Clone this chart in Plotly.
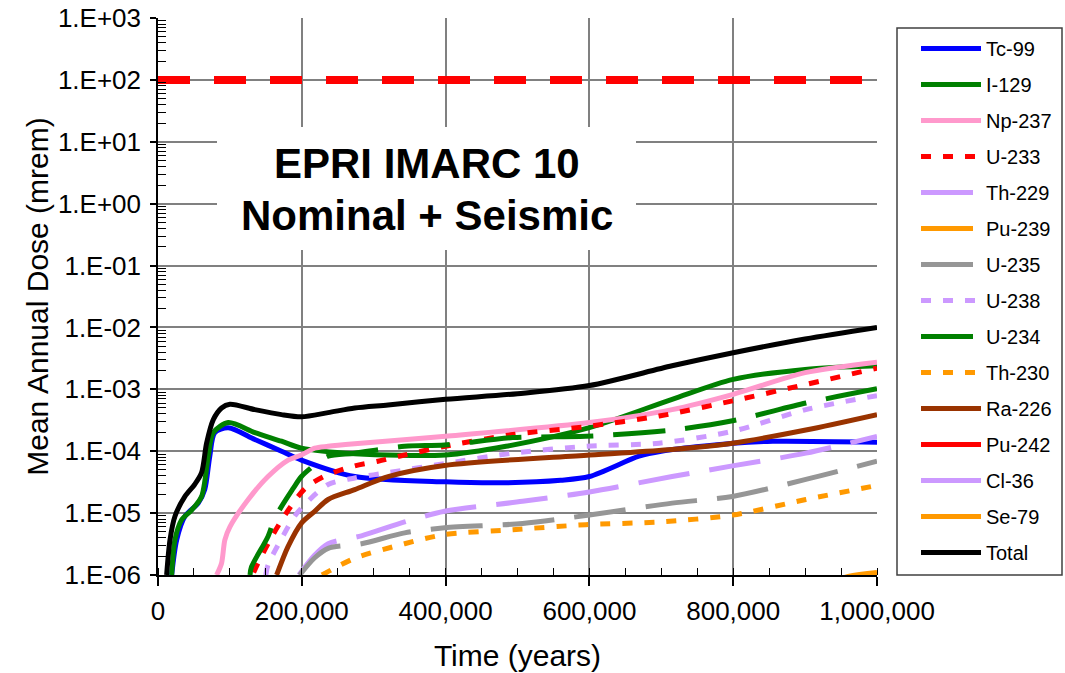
import plotly.graph_objects as go

# ---------------- data (years, mrem) ----------------
TC99_X = [19000, 26000, 37500, 56000, 65000, 72000, 79000, 97700, 134700, 171800, 199500, 273600, 400000, 484000, 560000, 600000, 669000, 700000, 800000, 855000, 1000000]
TC99_Y = [1.0e-6, 3.7e-6, 8.9e-6, 1.45e-5, 2.4e-5, 8.3e-5, 2.0e-4, 2.4e-4, 1.55e-4, 1.0e-4, 7.2e-5, 3.9e-5, 3.2e-5, 3.1e-5, 3.4e-5, 3.9e-5, 8.3e-5, 1.0e-4, 1.35e-4, 1.45e-4, 1.4e-4]

I129_X = [19000, 23600, 32900, 46800, 60600, 69900, 76900, 97700, 134700, 171800, 199500, 273600, 400000, 484000, 600000, 715000, 800000, 900000, 1000000]
I129_Y = [1.0e-6, 3.7e-6, 7.8e-6, 1.12e-5, 1.86e-5, 8.3e-5, 2.0e-4, 2.9e-4, 2.0e-4, 1.45e-4, 1.12e-4, 9.1e-5, 8.7e-5, 1.2e-4, 2.4e-4, 6.9e-4, 1.45e-3, 2.1e-3, 2.4e-3]

NP237_X = [81500, 88400, 93000, 100000, 125500, 153000, 181000, 199500, 218000, 236500, 273600, 400000, 600000, 715000, 800000, 900000, 1000000]
NP237_Y = [1.0e-6, 1.55e-6, 3.7e-6, 6.0e-6, 1.66e-5, 3.9e-5, 7.2e-5, 8.7e-5, 1.12e-4, 1.2e-4, 1.32e-4, 1.74e-4, 2.9e-4, 4.7e-4, 8.3e-4, 1.86e-3, 2.75e-3]

U233_X = [133000, 139000, 160000, 183000, 206000, 236600, 273600, 306000, 343000, 394000, 493000, 595000, 697000, 799000, 901000, 1000000]
U233_Y = [1.1e-6, 1.55e-6, 4.5e-6, 1.2e-5, 2.6e-5, 4.2e-5, 5.8e-5, 6.9e-5, 8.7e-5, 1.17e-4, 1.86e-4, 2.5e-4, 3.7e-4, 6.5e-4, 1.2e-3, 2.2e-3]

TH229_X = [196000, 218000, 236600, 283000, 343000, 398600, 507000, 600000, 715000, 799000, 901000, 1000000]
TH229_Y = [1.0e-6, 2.1e-6, 3.2e-6, 4.3e-6, 7.2e-6, 1.07e-5, 1.55e-5, 2.2e-5, 3.9e-5, 5.8e-5, 9.3e-5, 1.74e-4]

PU239_X = [600000, 800000, 1000000]
PU239_Y = [1.0e-8, 3.0e-8, 8.0e-8]

U235_X = [197000, 218000, 236600, 283000, 343000, 398600, 507000, 600000, 715000, 799000, 901000, 1000000]
U235_Y = [1.0e-6, 1.9e-6, 2.7e-6, 3.2e-6, 4.8e-6, 5.8e-6, 6.8e-6, 9.3e-6, 1.45e-5, 1.86e-5, 3.5e-5, 6.9e-5]

U238_X = [150000, 153000, 172000, 190000, 206000, 236600, 273600, 320000, 398600, 493500, 595000, 697000, 799000, 901000, 1000000]
U238_Y = [1.0e-6, 1.45e-6, 3.9e-6, 8.9e-6, 1.45e-5, 2.9e-5, 3.7e-5, 4.5e-5, 6.3e-5, 9.3e-5, 1.2e-4, 1.35e-4, 2.1e-4, 4.7e-4, 7.9e-4]

U234_X = [128000, 130000, 153000, 162500, 188000, 199500, 218000, 236600, 273600, 343000, 398600, 493500, 595000, 715000, 799000, 901000, 1000000]
U234_Y = [1.0e-6, 1.35e-6, 4.2e-6, 8.3e-6, 2.5e-5, 3.9e-5, 6.0e-5, 8.3e-5, 9.3e-5, 1.2e-4, 1.26e-4, 1.66e-4, 1.74e-4, 2.2e-4, 3.1e-4, 6.0e-4, 1.02e-3]

TH230_X = [228000, 273600, 343000, 398600, 493500, 595000, 697000, 799000, 901000, 1000000]
TH230_Y = [1.0e-6, 1.86e-6, 3.2e-6, 4.5e-6, 5.4e-6, 6.5e-6, 7.2e-6, 9.3e-6, 1.66e-5, 2.8e-5]

RA226_X = [165000, 181000, 199500, 218000, 236600, 273600, 320000, 398600, 600000, 715000, 799000, 901000, 1000000]
RA226_Y = [1.0e-6, 2.9e-6, 6.9e-6, 1.07e-5, 1.66e-5, 2.4e-5, 3.9e-5, 5.9e-5, 8.7e-5, 1.07e-4, 1.35e-4, 2.2e-4, 3.9e-4]

PU242_X = [600000, 800000, 1000000]
PU242_Y = [1.0e-8, 2.0e-8, 4.0e-8]

CL36_X = [600000, 800000, 1000000]
CL36_Y = [1.0e-8, 2.0e-8, 4.0e-8]

SE79_X = [900000, 960000, 1000000]
SE79_Y = [5.0e-7, 9.5e-7, 1.1e-6]

TOTAL_X = [12000, 16700, 23600, 37500, 51000, 60600, 67600, 76900, 88400, 100000, 134700, 171800, 199500, 236500, 273600, 320000, 400000, 500000, 600000, 715000, 800000, 900000, 1000000]
TOTAL_Y = [1.0e-6, 3.7e-6, 8.9e-6, 1.86e-5, 2.9e-5, 4.5e-5, 1.35e-4, 3.24e-4, 5.0e-4, 5.75e-4, 4.7e-4, 3.9e-4, 3.6e-4, 4.2e-4, 5.0e-4, 5.6e-4, 6.9e-4, 8.5e-4, 1.15e-3, 2.4e-3, 3.9e-3, 6.5e-3, 1.0e-2]

LIMIT_X = [0, 1000000]
LIMIT_Y = [100, 100]

X_TICKS = [0, 200000, 400000, 600000, 800000, 1000000]
X_TICKTEXT = ["0", "200,000", "400,000", "600,000", "800,000", "1,000,000"]
Y_TICKS = [1e-6, 1e-5, 1e-4, 1e-3, 1e-2, 1e-1, 1e0, 1e1, 1e2, 1e3]
Y_TICKTEXT = ["1.E-06", "1.E-05", "1.E-04", "1.E-03", "1.E-02", "1.E-01", "1.E+00", "1.E+01", "1.E+02", "1.E+03"]
Y_MINOR = [m * d for d in Y_TICKS[:-1] for m in range(2, 10)]

FONT = "Liberation Sans, Arial, sans-serif"

SHORT = "10px,12px"
LONG = "52px,20px"

series = [
    ("Tc-99", TC99_X, TC99_Y, "#0000FF", "solid"),
    ("I-129", I129_X, I129_Y, "#008000", "solid"),
    ("Np-237", NP237_X, NP237_Y, "#FF99CC", "solid"),
    ("U-233", U233_X, U233_Y, "#FF0000", SHORT),
    ("Th-229", TH229_X, TH229_Y, "#CC99FF", LONG),
    ("Pu-239", PU239_X, PU239_Y, "#FF9900", LONG),
    ("U-235", U235_X, U235_Y, "#969696", LONG),
    ("U-238", U238_X, U238_Y, "#CC99FF", SHORT),
    ("U-234", U234_X, U234_Y, "#008000", LONG),
    ("Th-230", TH230_X, TH230_Y, "#FF9900", SHORT),
    ("Ra-226", RA226_X, RA226_Y, "#993300", "solid"),
    ("Pu-242", PU242_X, PU242_Y, "#FF0000", "solid"),
    ("Cl-36", CL36_X, CL36_Y, "#CC99FF", "solid"),
    ("Se-79", SE79_X, SE79_Y, "#FF9900", "solid"),
    ("Total", TOTAL_X, TOTAL_Y, "#000000", "solid"),
]

fig = go.Figure()

fig.add_trace(go.Scatter(x=LIMIT_X, y=LIMIT_Y, mode="lines", showlegend=False,
                         line=dict(color="#FF0000", width=8, dash="32px,24px"),
                         hoverinfo="skip"))

for name, xs, ys, color, dash in series:
    fig.add_trace(go.Scatter(
        x=xs, y=ys, mode="lines", name=name, legendgroup=name,
        line=dict(color=color, width=5, dash=dash, shape="spline", smoothing=0.8),
    ))

PL, PR, PT, PB = 158, 877, 18, 575
PW, PH = PR - PL, PB - PT

def px(x):
    return (x - PL) / PW

def py(y):
    return (PB - y) / PH

fig.update_layout(
    width=1065, height=673,
    margin=dict(l=PL, r=1065 - PR, t=PT, b=673 - PB, autoexpand=False),
    paper_bgcolor="white", plot_bgcolor="white",
    font=dict(family=FONT, color="black"),
    showlegend=True,
    legend=dict(
        x=px(916), y=py(29), xanchor="left", yanchor="top",
        borderwidth=0, bgcolor="rgba(0,0,0,0)",
        font=dict(family=FONT, size=20, color="black"),
        tracegroupgap=7, itemwidth=60,
    ),
    xaxis=dict(
        range=[0, 1000000], tickmode="array", tickvals=X_TICKS, ticktext=X_TICKTEXT,
        tickfont=dict(size=26), ticks="outside", ticklen=9, tickwidth=1.5, tickcolor="black",
        ticklabelstandoff=3, automargin=False,
        showgrid=True, gridcolor="#808080", gridwidth=1.5,
        showline=True, linecolor="black", linewidth=1.5, zeroline=False,
        minor=dict(ticks="inside", ticklen=7, tickwidth=1.2, tickcolor="black", dtick=50000, showgrid=False),
        title=dict(text="Time (years)", font=dict(size=30), standoff=20),
    ),
    yaxis=dict(
        type="log", range=[-6, 3], tickmode="array", tickvals=Y_TICKS, ticktext=Y_TICKTEXT,
        tickfont=dict(size=26), ticks="outside", ticklen=6, tickwidth=1.5, tickcolor="black",
        ticklabelstandoff=4, automargin=False,
        showgrid=True, gridcolor="#808080", gridwidth=1.5,
        showline=True, linecolor="black", linewidth=1.5, zeroline=False,
        minor=dict(ticks="inside", ticklen=8, tickwidth=1.2, tickcolor="black", tickvals=Y_MINOR, showgrid=False),
        title=dict(text="Mean Annual Dose (mrem)", font=dict(size=30), standoff=0),
    ),
)

# legend frame
fig.add_shape(type="rect", xref="paper", yref="paper",
              x0=px(897), x1=px(1062), y0=py(575), y1=py(28),
              fillcolor="white", line=dict(color="#404040", width=1.5), layer="below")

# white box behind the title text
fig.add_shape(type="rect", xref="paper", yref="paper",
              x0=px(217), x1=px(636), y0=py(250), y1=py(127),
              fillcolor="white", line=dict(width=0), layer="above")

fig.add_annotation(xref="paper", yref="paper", x=px(426.5), y=py(163.8),
                   text="<b>EPRI IMARC 10</b>", showarrow=False,
                   font=dict(family=FONT, size=42, color="black"), xanchor="center", yanchor="middle")
fig.add_annotation(xref="paper", yref="paper", x=px(426.5), y=py(215),
                   text="<b>Nominal + Seismic</b>", showarrow=False,
                   font=dict(family=FONT, size=42, color="black"), xanchor="center", yanchor="middle")

fig.write_html("out.html", config={"displayModeBar": False},
               post_script="document.body.style.margin='0';document.body.style.overflow='hidden';")
